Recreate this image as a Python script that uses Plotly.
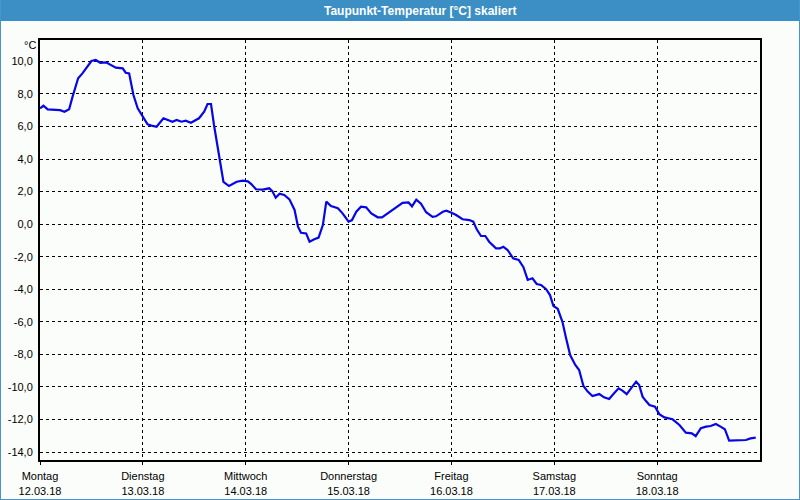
import plotly.graph_objects as go

# ---- data (hours since Mo 12.03.18 00:00, dew point in °C) ----
hours = [0.0, 0.8, 1.8, 3.3, 4.7, 5.7, 6.8, 7.6, 8.9, 9.9, 11.1, 12.0, 13.0, 14.1, 15.4, 16.2,
         17.7, 19.3, 20.0, 20.8, 21.8, 22.8, 24.2, 25.1, 26.3, 27.2, 28.8, 30.9, 31.9, 33.0,
         34.0, 35.2, 37.1, 38.3, 39.1, 39.9, 40.6, 41.8, 42.8, 44.1, 45.9, 47.3, 48.5, 49.3,
         50.4, 52.0, 53.5, 54.2, 55.0, 55.9, 57.0, 58.2, 59.4, 60.2, 60.9, 62.1, 62.9, 64.0,
         65.0, 66.0, 66.8, 67.9, 69.5, 70.6, 72.0, 72.8, 73.8, 74.9, 76.1, 77.3, 78.8, 79.8,
         81.1, 82.7, 84.6, 86.0, 86.8, 87.8, 88.9, 90.1, 91.6, 92.4, 94.0, 94.8, 95.9, 97.1,
         98.6, 100.2, 101.1, 101.9, 102.9, 103.9, 104.8, 106.4, 107.3, 108.1, 109.1, 110.4,
         111.7, 112.8, 113.8, 114.9, 115.9, 116.9, 118.1, 119.0, 119.8, 120.8, 121.9, 122.7,
         123.7, 124.9, 125.8, 126.8, 127.8, 128.9, 130.5, 131.6, 132.8, 133.8, 135.0, 135.9,
         136.9, 137.9, 139.1, 139.8, 140.6, 141.4, 142.2, 143.5, 144.5, 145.7, 147.6, 149.2,
         150.7, 152.1, 153.0, 154.2, 155.4, 156.5, 157.7, 158.8, 159.8, 160.8, 161.6, 163.1,
         164.7, 165.8, 167.0]
dewpoint = [7.11, 7.27, 7.05, 7.00, 7.00, 6.90, 7.05, 7.83, 8.96, 9.26, 9.67, 10.02, 10.08, 9.91,
            9.94, 9.83, 9.61, 9.57, 9.30, 9.26, 7.93, 7.11, 6.50, 6.13, 6.03, 5.98, 6.50, 6.29,
            6.40, 6.29, 6.35, 6.23, 6.50, 6.90, 7.38, 7.38, 6.09, 4.14, 2.60, 2.34, 2.60, 2.67,
            2.63, 2.46, 2.14, 2.12, 2.20, 2.03, 1.62, 1.87, 1.79, 1.52, 0.87, -0.16, -0.53, -0.57,
            -1.08, -0.93, -0.83, -0.06, 1.38, 1.11, 0.97, 0.66, 0.15, 0.25, 0.76, 1.07, 1.03, 0.66,
            0.42, 0.42, 0.66, 0.91, 1.31, 1.33, 1.09, 1.50, 1.25, 0.73, 0.45, 0.48, 0.76, 0.82,
            0.72, 0.56, 0.30, 0.25, 0.15, -0.32, -0.73, -0.73, -1.08, -1.49, -1.49, -1.39, -1.59,
            -2.10, -2.20, -2.65, -3.43, -3.33, -3.68, -3.74, -4.00, -4.36, -5.03, -5.20, -6.00,
            -6.95, -8.04, -8.65, -8.96, -9.94, -10.29, -10.56, -10.44, -10.64, -10.74, -10.44,
            -10.09, -10.23, -10.44, -10.09, -9.68, -9.88, -10.60, -10.87, -11.11, -11.22, -11.67,
            -11.87, -11.99, -12.34, -12.81, -12.85, -13.02, -12.54, -12.44, -12.40, -12.28, -12.44,
            -12.60, -13.30, -13.30, -13.26, -13.26, -13.16, -13.12]

day_names = ["Montag", "Dienstag", "Mittwoch", "Donnerstag", "Freitag", "Samstag", "Sonntag"]
day_dates = ["12.03.18", "13.03.18", "14.03.18", "15.03.18", "16.03.18", "17.03.18", "18.03.18"]
day_hours = [0, 24, 48, 72, 96, 120, 144]
y_ticks = [10, 8, 6, 4, 2, 0, -2, -4, -6, -8, -10, -12, -14]
y_labels = ["10,0", "8,0", "6,0", "4,0", "2,0", "0,0", "-2,0", "-4,0", "-6,0", "-8,0",
            "-10,0", "-12,0", "-14,0"]
title_text = "Taupunkt-Temperatur [°C] skaliert"
unit_text = "°C"

W, H = 800, 500
L, R, T, B = 40, 40, 40, 40
PW, PH = W - L - R, H - T - B


def px(xp):
    return (xp - L) / PW


def py(yp):
    return (H - B - yp) / PH


FONT = "Liberation Sans, Arial, sans-serif"
BG = "#fbfdfb"
BLUE_BAR = "#3b8fc4"
BORDER = "#4a94c8"

fig = go.Figure()
fig.add_trace(go.Scatter(x=hours, y=dewpoint, mode="lines",
                         line=dict(color="#0606e6", width=2.2), hoverinfo="skip",
                         showlegend=False))

fig.update_layout(
    width=W, height=H,
    margin=dict(l=L, r=R, t=T, b=B, autoexpand=False),
    paper_bgcolor=BG, plot_bgcolor=BG,
    font=dict(family=FONT, size=11, color="#000000"),
    xaxis=dict(range=[0, 168], tickvals=day_hours,
               ticktext=[f"{n}<br>{d}" for n, d in zip(day_names, day_dates)],
               showgrid=True, gridcolor="#000000", griddash="3px,3px", gridwidth=1,
               showline=True, linecolor="#000000", linewidth=2, mirror=True,
               ticks="outside", ticklen=3, tickcolor="#000000", zeroline=False,
               ticklabelstandoff=2, automargin=False, fixedrange=True),
    yaxis=dict(range=[-14.49, 11.31], tickvals=y_ticks, ticktext=y_labels,
               showgrid=True, gridcolor="#000000", griddash="3px,3px", gridwidth=1,
               showline=True, linecolor="#000000", linewidth=2, mirror=True,
               ticks="", zeroline=False, ticklabelstandoff=3, automargin=False,
               fixedrange=True),
    shapes=[
        dict(type="rect", xref="paper", yref="paper", x0=px(0), x1=px(W), y0=py(21), y1=py(0),
             fillcolor=BLUE_BAR, line=dict(width=0), layer="below"),
        dict(type="line", xref="paper", yref="paper", x0=px(0.5), x1=px(0.5), y0=py(H), y1=py(0),
             line=dict(color=BORDER, width=1)),
        dict(type="line", xref="paper", yref="paper", x0=px(W - 0.5), x1=px(W - 0.5), y0=py(H), y1=py(0),
             line=dict(color=BORDER, width=1)),
        dict(type="line", xref="paper", yref="paper", x0=px(0), x1=px(W), y0=py(H - 0.5), y1=py(H - 0.5),
             line=dict(color=BORDER, width=1)),
    ],
    annotations=[
        dict(text=f"<b>{title_text}</b>", xref="paper", yref="paper", x=px(420), y=py(11),
             xanchor="center", yanchor="middle", showarrow=False,
             font=dict(family=FONT, size=12, color="#ffffff")),
        dict(text=unit_text, xref="paper", yref="paper", x=px(38), y=py(45),
             xanchor="right", yanchor="middle", showarrow=False,
             font=dict(family=FONT, size=11, color="#000000")),
    ],
)

fig.write_html("out.html")
